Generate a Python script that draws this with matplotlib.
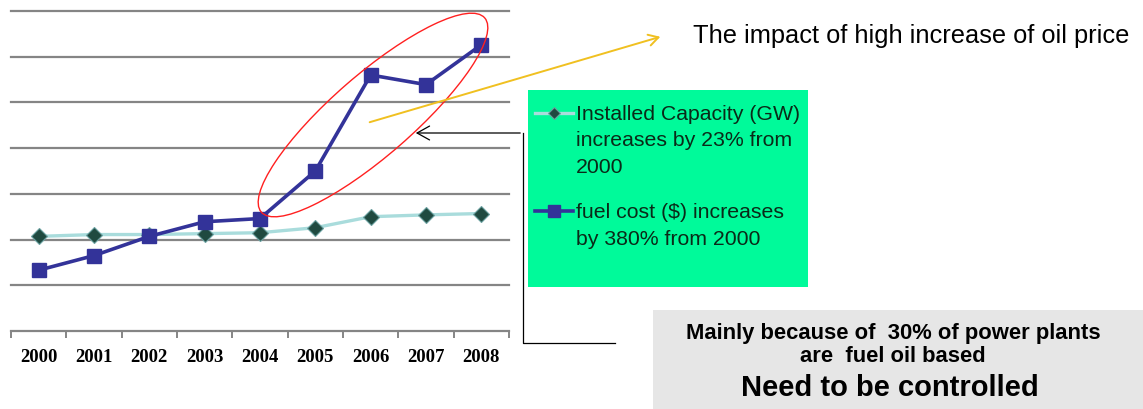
import matplotlib
matplotlib.use("Agg")
import matplotlib.pyplot as plt
from matplotlib.patches import Ellipse, Rectangle, FancyArrowPatch
from matplotlib.lines import Line2D

years = ["2000", "2001", "2002", "2003", "2004", "2005", "2006", "2007", "2008"]
capacity = [2.07, 2.11, 2.11, 2.13, 2.15, 2.26, 2.50, 2.54, 2.57]
fuel_cost = [1.33, 1.65, 2.07, 2.39, 2.46, 3.50, 5.60, 5.39, 6.26]

cap_line = "#a9dcdc"
cap_mark = "#1f4a40"
fuel_col = "#333399"

W, H = 1143, 409
fig = plt.figure(figsize=(W / 100, H / 100), dpi=100)
fig.patch.set_facecolor("white")

# main chart, placed by pixel box
ax = fig.add_axes([11 / W, 1 - 331 / H, 498 / W, 320 / H])
x = range(len(years))
ax.plot(x, capacity, color=cap_line, lw=2.4, marker="D", ms=8,
        mfc=cap_mark, mec="#6aa0a0", mew=0.8, zorder=3)
ax.plot(x, fuel_cost, color=fuel_col, lw=2.6, marker="s", ms=10,
        mfc=fuel_col, mec=fuel_col, zorder=4)

ax.set_xlim(-0.5, len(years) - 0.5)
ax.set_ylim(0, 7)
ax.set_yticks(range(1, 8))
ax.yaxis.grid(True, color="#858585", lw=1.6)
for gl in ax.get_ygridlines():
    gl.set_clip_on(False)
ax.set_axisbelow(True)
ax.tick_params(axis="y", left=False, labelleft=False)
ax.set_xticks(list(x))
ax.set_xticklabels(years, fontfamily="Liberation Serif", fontweight="bold", fontsize=13.5)
ax.tick_params(axis="x", length=0, pad=13)
ax.set_xticks([i - 0.5 for i in range(len(years) + 1)], minor=True)
ax.tick_params(axis="x", which="minor", length=5, color="#858585", width=1.4)
for s in ["left", "right", "top"]:
    ax.spines[s].set_visible(False)
ax.spines["bottom"].set_color("#858585")
ax.spines["bottom"].set_linewidth(1.6)
ax.patch.set_alpha(0)

# overlay in pixel units for the annotations
ov = fig.add_axes([0, 0, 1, 1], zorder=10)
ov.set_xlim(0, W)
ov.set_ylim(H, 0)
ov.axis("off")
ov.patch.set_alpha(0)

ov.add_patch(Ellipse((373, 115), 296, 81, angle=-41, fill=False, ec="#ff2020", lw=1.0))

ov.add_patch(FancyArrowPatch((367, 123), (663, 36), arrowstyle="->,head_length=7,head_width=4",
                             color="#f0c020", lw=1.4, mutation_scale=1))
ov.text(693, 36, "The impact of high increase of oil price", fontfamily="Liberation Sans",
        fontsize=18.3, va="center", ha="left", color="black")

# green legend box
ov.add_patch(Rectangle((528, 90), 280, 197, fc="#00fa9a", ec="none"))
ov.add_line(Line2D([535, 573], [113, 113], color=cap_line, lw=2.4))
ov.plot([554], [113], marker="D", ms=6, mfc=cap_mark, mec="#6aa0a0", mew=0.8)
ov.add_line(Line2D([535, 573], [211, 211], color=fuel_col, lw=2.6))
ov.plot([554], [211], marker="s", ms=9, mfc=fuel_col, mec=fuel_col)
legend_font = ["Liberation Sans Narrow", "Liberation Sans"]
ov.text(576, 141, "Installed Capacity (GW)\nincreases by 23% from\n2000", family=legend_font,
        fontsize=15.3, va="center", ha="left", color="#0a2a18", linespacing=1.48)
ov.text(576, 226, "fuel cost ($) increases\nby 380% from 2000", family=legend_font,
        fontsize=15.3, va="center", ha="left", color="#0a2a18", linespacing=1.48)

# black connector with open arrowhead
ov.add_line(Line2D([523, 523, 615], [133, 343, 343], color="black", lw=0.9))
ov.add_patch(FancyArrowPatch((523, 133), (413, 133), arrowstyle="->,head_length=9,head_width=5",
                             color="black", lw=0.9, mutation_scale=1))

# grey conclusion box
ov.add_patch(Rectangle((653, 310), 490, 99, fc="#e6e6e6", ec="none"))
ov.text(893, 333, "Mainly because of  30% of power plants", fontfamily="Liberation Sans",
        fontweight="bold", fontsize=15.8, ha="center", va="center")
ov.text(893, 356, "are  fuel oil based", fontfamily="Liberation Sans",
        fontweight="bold", fontsize=15.8, ha="center", va="center")
ov.text(890, 388, "Need to be controlled", fontfamily="Liberation Sans",
        fontweight="bold", fontsize=21, ha="center", va="center")

fig.savefig("out.png", dpi=100)
